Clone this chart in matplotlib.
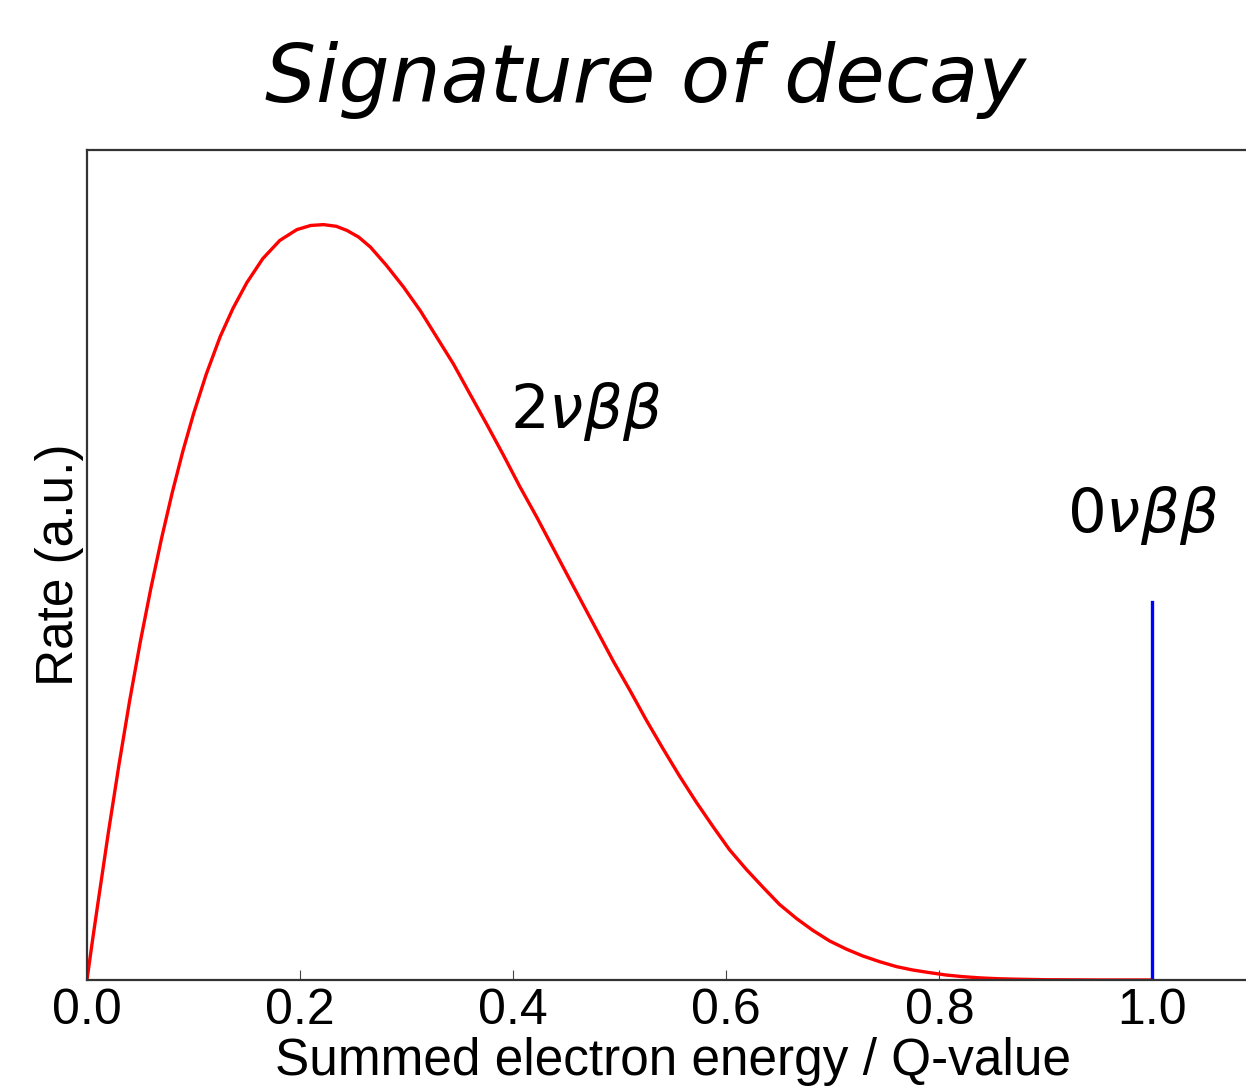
import matplotlib
matplotlib.use("Agg")
import matplotlib.pyplot as plt

# ---------------------------------------------------------------------------
# Dane
# ---------------------------------------------------------------------------
energy = [0.000, 0.005, 0.010, 0.020, 0.030, 0.040, 0.050, 0.060, 0.070,
          0.080, 0.090, 0.100, 0.112, 0.125, 0.137, 0.150, 0.165, 0.181,
          0.197, 0.210, 0.222, 0.234, 0.244, 0.255, 0.266, 0.281, 0.297,
          0.313, 0.328, 0.344, 0.359, 0.375, 0.391, 0.406, 0.422, 0.436,
          0.450, 0.472, 0.494, 0.510, 0.525, 0.540, 0.556, 0.572, 0.588,
          0.603, 0.619, 0.635, 0.650, 0.666, 0.681, 0.697, 0.713, 0.728,
          0.744, 0.760, 0.775, 0.790, 0.806, 0.822, 0.838, 0.855, 0.870,
          0.900, 0.950, 1.000]
rate_2nu = [0.000, 0.046, 0.090, 0.177, 0.259, 0.336, 0.407, 0.472, 0.532,
            0.587, 0.637, 0.682, 0.730, 0.775, 0.809, 0.840, 0.869, 0.891,
            0.904, 0.909, 0.910, 0.908, 0.903, 0.895, 0.883, 0.861, 0.835,
            0.806, 0.775, 0.742, 0.707, 0.670, 0.632, 0.595, 0.558, 0.524,
            0.490, 0.437, 0.384, 0.348, 0.313, 0.280, 0.246, 0.214, 0.184,
            0.157, 0.133, 0.111, 0.091, 0.074, 0.060, 0.047, 0.037, 0.029,
            0.022, 0.016, 0.012, 0.009, 0.006, 0.004, 0.0025, 0.0015, 0.001,
            0.0003, 0.000, 0.000]

peak_0nu_x = 1.0
peak_0nu_h = 0.455

xticks = [0.0, 0.2, 0.4, 0.6, 0.8, 1.0]

plt.rcParams.update({
    "font.family": "Liberation Sans",
    "mathtext.fontset": "dejavusans",
})

fig = plt.figure(figsize=(12.46, 10.88), dpi=100)
ax = fig.add_axes([0.0698, 0.0993, 0.9406, 0.7629])

ax.plot(energy, rate_2nu, color="red", linewidth=2.4, solid_joinstyle="round")
ax.plot([peak_0nu_x, peak_0nu_x], [0, peak_0nu_h], color="blue", linewidth=2.4)

ax.text(0.397, 0.665, r"$2\nu\beta\beta$", fontsize=44, color="black")
ax.text(0.920, 0.540, r"$0\nu\beta\beta$", fontsize=44, color="black")

ax.set_xlim(0, 1.1)
ax.set_ylim(0, 1)
ax.set_xticks(xticks)
ax.set_xticklabels([f"{t:.1f}" for t in xticks])
ax.set_yticks([])
ax.tick_params(axis="x", direction="in", length=7, width=0.8,
               labelsize=36, pad=6, colors="#444444", labelcolor="black")

for sp in ax.spines.values():
    sp.set_linewidth(1.6)
    sp.set_color("#333333")

ax.set_xlabel("Summed electron energy / Q-value", fontsize=37, labelpad=2)
ax.set_ylabel("Rate (a.u.)", fontsize=37, labelpad=2)

fig.text(0.518, 1 - 102 / 1088, "Signature of decay", family="DejaVu Sans",
         style="italic", fontsize=58, ha="center", va="baseline")

fig.savefig("out.png", dpi=100)
print("Zapisano: out.png")
